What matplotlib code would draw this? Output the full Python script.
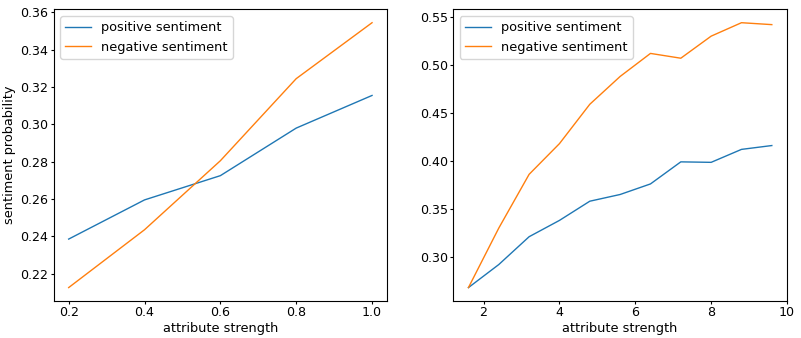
import numpy as np
import matplotlib
matplotlib.use('Agg')
import matplotlib.pyplot as plt

# left panel data
strength_a = [0.2, 0.4, 0.6, 0.8, 1.0]
pos_a = [0.2385, 0.2595, 0.2725, 0.298, 0.3155]
neg_a = [0.2125, 0.2435, 0.2805, 0.3245, 0.3545]

# right panel data
strength_b = [1.6, 2.4, 3.2, 4.0, 4.8, 5.6, 6.4, 7.2, 8.0, 8.8, 9.6]
pos_b = [0.268, 0.292, 0.321, 0.338, 0.358, 0.365, 0.376, 0.399, 0.3985, 0.412, 0.416]
neg_b = [0.268, 0.330, 0.386, 0.418, 0.459, 0.488, 0.512, 0.507, 0.530, 0.544, 0.542]

plt.rcParams['font.size'] = 9.3
plt.rcParams['xtick.labelsize'] = 9.1
plt.rcParams['ytick.labelsize'] = 9.1
plt.rcParams['xtick.major.size'] = 2.2
plt.rcParams['ytick.major.size'] = 2.2
plt.rcParams['xtick.major.pad'] = 1.5
plt.rcParams['ytick.major.pad'] = 1.5

fig, (ax1, ax2) = plt.subplots(1, 2, figsize=(8.01, 3.38), dpi=100)
fig.subplots_adjust(left=0.0668, right=0.9825, bottom=0.110, top=0.972, wspace=0.198)

ax1.plot(strength_a, pos_a, lw=1, label='positive sentiment')
ax1.plot(strength_a, neg_a, lw=1, label='negative sentiment')
ax1.set_xlabel('attribute strength', labelpad=2)
ax1.set_ylabel('sentiment probability', labelpad=3)
ax1.set_xticks([0.2, 0.4, 0.6, 0.8, 1.0])
ax1.legend(loc='upper left')

ax2.plot(strength_b, pos_b, lw=1, label='positive sentiment')
ax2.plot(strength_b, neg_b, lw=1, label='negative sentiment')
ax2.set_xlabel('attribute strength', labelpad=2)
ax2.set_xlim(right=10)
ax2.legend(loc='upper left')

fig.savefig('out.png')
